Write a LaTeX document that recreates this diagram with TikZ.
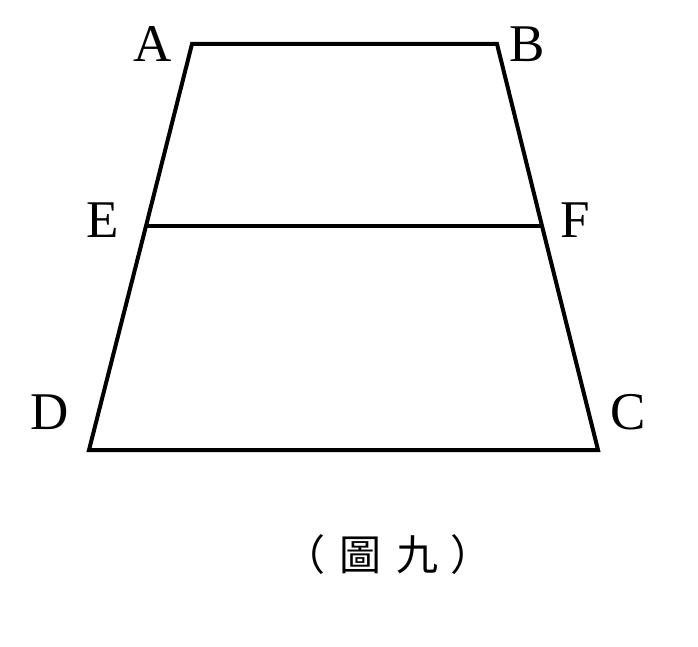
\documentclass[tikz,border=0pt]{standalone}
\usepackage{fontspec}
\setmainfont{Liberation Serif}
\newfontfamily\cjk{Noto Sans CJK TC}
\usepackage{tikz}

\begin{document}
\begin{tikzpicture}[
        x=1pt,y=-1pt,
        vertexlabel/.style={inner sep=0pt,font=\fontsize{53}{53}\selectfont},
        every path/.append style={line width=4pt}
    ]
        \useasboundingbox (0,0) rectangle (698,647);

        \coordinate (A) at (192,44);
        \coordinate (B) at (497,44);
        \coordinate (E) at (146,226);
        \coordinate (F) at (542,226);
        \coordinate (D) at (89,450);
        \coordinate (C) at (598,450);

        \draw (D) -- (E) -- (A) -- (B) -- (F) -- (C) -- cycle;
        \draw (E) -- (F);

        \node [vertexlabel] (lA) at (153,44)  {A};
        \node [vertexlabel] (lB) at (527,44)  {B};
        \node [vertexlabel] (lE) at (103,220) {E};
        \node [vertexlabel] (lF) at (575,220) {F};
        \node [vertexlabel] (lD) at (50,412)  {D};
        \node [vertexlabel] (lC) at (628,412) {C};

        \node [inner sep=0pt,font=\cjk\fontsize{42}{42}\selectfont] (cap) at (388,555)
            {（\hspace{14pt}圖\hspace{15pt}九\hspace{12pt}）};
    \end{tikzpicture}
\end{document}
